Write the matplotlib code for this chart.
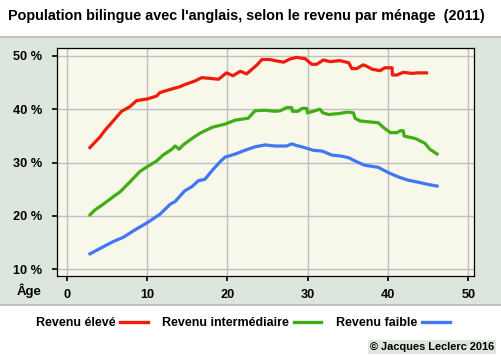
import matplotlib
matplotlib.use("Agg")
import matplotlib.pyplot as plt
from matplotlib.lines import Line2D
from matplotlib.patches import Rectangle

# ---- data ----
age_high = [2.9, 4.15, 4.8, 5.8, 6.6, 6.85, 7.9, 8.7, 10.0, 11.2, 11.6, 12.9, 14.1, 14.7, 16.0, 16.8,
            17.6, 18.9, 19.9, 20.7, 21.6, 22.4, 23.7, 24.3, 25.3, 25.9, 27.0, 27.8, 28.6, 29.7, 30.5,
            31.1, 31.95, 32.8, 34.0, 35.1, 35.5, 36.1, 36.9, 37.4, 38.0, 39.0, 39.6, 40.5, 40.55, 41.1,
            41.9, 43.0, 43.8, 44.8]
val_high = [32.8, 34.8, 36.1, 37.8, 39.2, 39.6, 40.5, 41.6, 41.9, 42.45, 43.1, 43.7, 44.2, 44.6, 45.3, 45.9,
            45.8, 45.6, 46.8, 46.25, 47.1, 46.6, 48.3, 49.3, 49.3, 49.1, 48.8, 49.4, 49.7, 49.45, 48.4,
            48.4, 49.2, 48.9, 49.1, 48.7, 47.6, 47.6, 48.3, 48.0, 47.5, 47.2, 47.75, 47.75, 46.4, 46.4,
            46.9, 46.7, 46.8, 46.8]

age_mid = [2.9, 3.5, 4.56, 5.8, 6.64, 7.9, 9.1, 10.0, 11.2, 12.0, 13.1, 13.5, 14.0, 14.5, 15.4, 16.6,
           18.1, 19.7, 21.0, 22.6, 23.45, 24.7, 25.9, 26.6, 27.4, 28.0, 28.1, 28.8, 29.3, 29.9, 29.96,
           30.7, 31.5, 31.9, 32.6, 34.0, 34.9, 35.7, 35.9, 36.5, 37.8, 38.8, 39.4, 40.3, 41.1, 41.5,
           41.9, 42.0, 43.4, 44.6, 45.2, 46.1]
val_mid = [20.2, 21.1, 22.2, 23.6, 24.5, 26.4, 28.3, 29.2, 30.3, 31.4, 32.5, 33.1, 32.5, 33.3, 34.3, 35.5,
           36.6, 37.2, 37.95, 38.3, 39.7, 39.8, 39.6, 39.7, 40.3, 40.3, 39.6, 39.6, 40.15, 40.15, 39.3,
           39.6, 40.0, 39.3, 39.0, 39.2, 39.45, 39.3, 38.3, 37.8, 37.6, 37.45, 36.6, 35.6, 35.6, 35.95,
           35.95, 34.96, 34.5, 33.6, 32.5, 31.6]

age_low = [2.9, 4.15, 5.8, 7.05, 8.3, 10.0, 11.6, 12.9, 13.5, 14.7, 15.6, 16.4, 17.2, 18.1, 19.1, 19.7,
           21.0, 22.2, 23.45, 24.7, 25.9, 27.4, 28.0, 28.6, 29.5, 30.7, 31.8, 33.0, 34.2, 35.1, 36.1,
           37.1, 38.8, 40.05, 41.3, 42.5, 43.8, 45.0, 46.1]
val_low = [12.9, 13.9, 15.2, 16.0, 17.2, 18.7, 20.3, 22.2, 22.7, 24.7, 25.5, 26.6, 26.85, 28.5, 30.15, 31.0,
           31.6, 32.3, 32.95, 33.3, 33.1, 33.1, 33.5, 33.2, 32.85, 32.3, 32.15, 31.4, 31.2, 30.9, 30.15,
           29.5, 29.1, 28.1, 27.3, 26.7, 26.3, 25.9, 25.6]

x_ticks = [0, 10, 20, 30, 40, 50]
y_ticks = [10, 20, 30, 40, 50]
y_tick_labels = ["10 %", "20 %", "30 %", "40 %", "50 %"]
series_labels = ["Revenu élevé", "Revenu intermédiaire", "Revenu faible"]
title = "Population bilingue avec l'anglais, selon le revenu par ménage  (2011)"
credit = "© Jacques Leclerc 2016"

# ---- style ----
FAM = ["Liberation Sans", "DejaVu Sans"]
plt.rcParams["font.family"] = FAM
plt.rcParams["font.weight"] = "bold"
RED = "#f01c0a"
GREEN = "#3fae14"
BLUE = "#3f78f0"
BAND = "#dde6dd"
AXBG = "#f7f7ea"
GRID = "#c3bec6"

W, H = 501, 356
fig = plt.figure(figsize=(W / 100, H / 100), dpi=100)
fig.patch.set_facecolor("white")

# middle band
fig.patches.append(Rectangle((0, 1 - 305 / H), 1, (305 - 37) / H, transform=fig.transFigure,
                             facecolor=BAND, edgecolor="none", zorder=-5))
for yy in (37, 305):
    fig.add_artist(Line2D([0, 1], [1 - yy / H, 1 - yy / H], transform=fig.transFigure,
                          color="#b8b8b8", lw=1.2, zorder=-4))

left, right, top, bottom = 57, 474, 48.3, 276
ax = fig.add_axes([left / W, 1 - bottom / H, (right - left) / W, (bottom - top) / H])
ax.set_zorder(2)
ax.set_facecolor(AXBG)

ax.plot(age_high, val_high, color=RED, lw=2.3, solid_joinstyle="round", zorder=3)
ax.plot(age_mid, val_mid, color=GREEN, lw=2.3, solid_joinstyle="round", zorder=3)
ax.plot(age_low, val_low, color=BLUE, lw=2.3, solid_joinstyle="round", zorder=3)

ax.set_xlim(-1.2, 50.7)
ax.set_ylim(8.75, 51.4)
ax.set_xticks(x_ticks)
ax.set_yticks(y_ticks)
ax.set_yticklabels(y_tick_labels)
ax.grid(True, color=GRID, lw=1.0)
ax.set_axisbelow(True)
for s in ax.spines.values():
    s.set_color("black")
    s.set_linewidth(0.9)
ax.tick_params(axis="both", direction="out", length=3.5, width=1.3, color="#111111",
               labelsize=9.2, labelcolor="black")
ax.tick_params(axis="y", pad=7)
ax.tick_params(axis="x", pad=6)

fig.text(17 / W, 1 - 291 / H, "Âge", ha="left", va="center", fontsize=9.5, fontweight="bold")

fig.text(8 / W, 1 - 16 / H, title, ha="left", va="center", fontsize=10.35, fontweight="bold")

handles = [Line2D([], [], color=c, lw=2.4) for c in (RED, GREEN, BLUE)]
fig.legend(handles, series_labels, loc="center", bbox_to_anchor=(242.5 / W, 1 - 323 / H),
           ncol=3, frameon=False, markerfirst=False, fontsize=9.0, handlelength=2.2,
           handletextpad=0.4, columnspacing=1.15, borderaxespad=0, borderpad=0)

fig.text(494 / W, 1 - 347 / H, credit, ha="right", va="center", fontsize=7.9, fontweight="bold",
         bbox=dict(boxstyle="square,pad=0.2", facecolor=BAND, edgecolor="none"))

fig.savefig("out.png", dpi=100)
